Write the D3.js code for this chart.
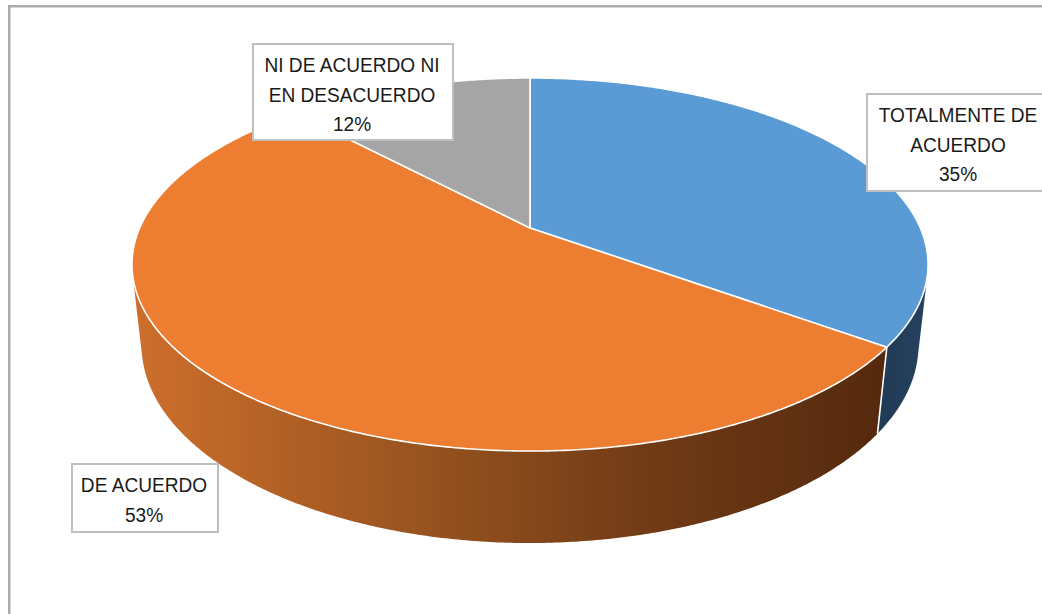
<!DOCTYPE html>
<html>
<head>
<meta charset="utf-8">
<script src="https://cdn.jsdelivr.net/npm/d3@7/dist/d3.min.js"></script>
<style>
  html, body { margin: 0; padding: 0; background: #fff; }
  svg { display: block; }
  .lbl { font-family: "Liberation Sans", Arial, sans-serif; font-size: 21px; fill: #1a1a1a; }
</style>
</head>
<body>
<svg id="chart" width="1042" height="614"></svg>
<script>
// Survey answers and their share of responses (%)
const categories = ["TOTALMENTE DE ACUERDO", "DE ACUERDO", "NI DE ACUERDO NI EN DESACUERDO"];
const values = [35, 53, 12];
// Label lines for each slice
const labelLines = [
  ["TOTALMENTE DE", "ACUERDO"],
  ["DE ACUERDO"],
  ["NI DE ACUERDO NI", "EN DESACUERDO"]
];

const topColors = ["#5B9BD5", "#ED7D31", "#A5A5A5"];

const svg = d3.select("#chart");
const W = 1042, H = 614;

// Chart frame
svg.append("rect")
  .attr("x", 9.25).attr("y", 6.25)
  .attr("width", W + 40).attr("height", H + 40)
  .attr("fill", "#fff")
  .attr("stroke", "#ABABAB").attr("stroke-width", 2.5);

// --- 3D perspective projection of a flat cylinder (pie disc) ---
const cx = 530, cy = 228;       // screen position of the pie centre
const R = 0.2204;               // disc radius (camera distance = 1)
const depth = 0.0518;           // disc thickness
const sinA = 0.4596, cosA = Math.sqrt(1 - sinA * sinA); // camera elevation
const focal = 1771;

function project(theta, bottom) {
  const X = R * Math.sin(theta);
  const Z = -R * Math.cos(theta);
  const Y = bottom ? -depth : 0;
  const u = X;
  const v = Z * sinA - Y * cosA;
  const w = 1 - Z * cosA - Y * sinA;
  return [cx + focal * u / w, cy + focal * v / w];
}

function arcPoints(a0, a1, bottom) {
  const n = Math.max(2, Math.ceil(Math.abs(a1 - a0) / (Math.PI / 360)));
  const pts = [];
  for (let i = 0; i <= n; i++) pts.push(project(a0 + (a1 - a0) * i / n, bottom));
  return pts;
}

// Outer wall is visible where it faces the camera
const visLimit = Math.acos(-R / cosA);
const vis0 = visLimit, vis1 = 2 * Math.PI - visLimit;

const pie = d3.pie().sort(null).value(d => d).startAngle(0).endAngle(2 * Math.PI);
const arcs = pie(values);

const line = d3.line();

// Side shading
const defs = svg.append("defs");
const gOrange = defs.append("linearGradient")
  .attr("id", "sideOrange").attr("gradientUnits", "userSpaceOnUse")
  .attr("x1", 132).attr("x2", 885).attr("y1", 0).attr("y2", 0);
[[0, "#CE6F2C"], [0.4, "#96521F"], [0.68, "#713B16"], [1, "#55290E"]]
  .forEach(([o, c]) => gOrange.append("stop").attr("offset", o).attr("stop-color", c));
const gBlue = defs.append("linearGradient")
  .attr("id", "sideBlue").attr("gradientUnits", "userSpaceOnUse")
  .attr("x1", 875).attr("x2", 930).attr("y1", 0).attr("y2", 0);
[[0, "#213A55"], [1, "#25425F"]]
  .forEach(([o, c]) => gBlue.append("stop").attr("offset", o).attr("stop-color", c));
const sideFills = ["url(#sideBlue)", "url(#sideOrange)", "#5F5F5F"];

const sides = svg.append("g");
arcs.forEach((a, i) => {
  const s0 = Math.max(a.startAngle, vis0), s1 = Math.min(a.endAngle, vis1);
  if (s0 >= s1) return;
  const pts = arcPoints(s0, s1, false).concat(arcPoints(s1, s0, true));
  sides.append("path")
    .attr("d", line(pts) + "Z")
    .attr("fill", sideFills[i]);
});
// White edges where slices meet on the wall
arcs.forEach(a => {
  const t = a.endAngle;
  if (t > vis0 && t < vis1) {
    sides.append("path")
      .attr("d", line([project(t, false), project(t, true)]))
      .attr("stroke", "#fff").attr("stroke-width", 1.6).attr("fill", "none");
  }
});

// Top faces
const tops = svg.append("g");
arcs.forEach((a, i) => {
  const pts = [[cx, cy]].concat(arcPoints(a.startAngle, a.endAngle, false));
  tops.append("path")
    .attr("d", line(pts) + "Z")
    .attr("fill", topColors[i])
    .attr("stroke", "#fff").attr("stroke-width", 1.6)
    .attr("stroke-linejoin", "round");
});

// Data labels
const boxes = [
  { x: 867, y: 94, w: 184, h: 97 },
  { x: 72, y: 464, w: 146, h: 68 },
  { x: 253, y: 44, w: 200, h: 96 }
];
const lab = svg.append("g");
arcs.forEach((a, i) => {
  const b = boxes[i];
  lab.append("rect")
    .attr("x", b.x).attr("y", b.y).attr("width", b.w).attr("height", b.h)
    .attr("fill", "#fff").attr("stroke", "#BFBFBF").attr("stroke-width", 2);
  const lines = labelLines[i].concat([d3.format("d")(values[i]) + "%"]);
  const mid = b.x + b.w / 2 - 1;
  lines.forEach((t, k) => {
    lab.append("text")
      .attr("class", "lbl")
      .attr("text-anchor", "middle")
      .attr("transform", `translate(${mid},${b.y + 28 + k * 29.5}) scale(0.91,1)`)
      .text(t);
  });
});
</script>
</body>
</html>
